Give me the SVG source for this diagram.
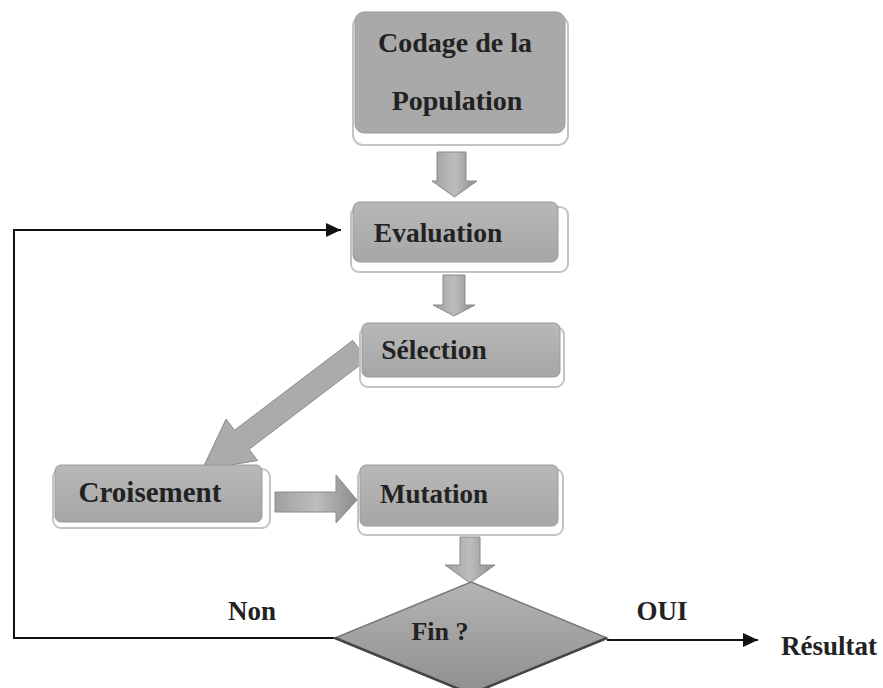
<svg xmlns="http://www.w3.org/2000/svg" width="883" height="688" viewBox="0 0 883 688">
<style>
.lbl{font-family:"Liberation Serif","Times New Roman",serif;font-weight:bold;fill:#222;text-anchor:middle}
.box{stroke:#9a9a9a;stroke-width:1}
.ledge{fill:#fff;stroke:#c4c4c4;stroke-width:2}
.blk{fill:url(#ga);stroke:#8a8a8a;stroke-width:1}
.line{fill:none;stroke:#111;stroke-width:2}
</style>
<defs>
<linearGradient id="gb" x1="0" y1="0" x2="0" y2="1">
<stop offset="0" stop-color="#b8b8b8"/><stop offset="1" stop-color="#a6a6a6"/>
</linearGradient>
<linearGradient id="ga" x1="0" y1="0" x2="1" y2="0">
<stop offset="0" stop-color="#a0a0a0"/><stop offset="0.5" stop-color="#bdbdbd"/><stop offset="1" stop-color="#8c8c8c"/>
</linearGradient>
<linearGradient id="gd" x1="0" y1="0" x2="0" y2="1">
<stop offset="0" stop-color="#b4b4b4"/><stop offset="1" stop-color="#8f8f8f"/>
</linearGradient>
<marker id="ah" markerWidth="8" markerHeight="8" refX="7.5" refY="4" orient="auto" markerUnits="strokeWidth">
<path d="M0,0.5 L7.5,4 L0,7.5 Z" fill="#111"/>
</marker>
</defs>
<rect width="883" height="688" fill="#fff"/>

<g id="connectors">
<path class="line" d="M335,638 L14,638 L14,230 L341,230" marker-end="url(#ah)"/>
<path class="line" d="M607,640 L758,640" marker-end="url(#ah)"/>
<path class="blk" d="M437,152 L466,152 L466,181 L477,181 L454.5,197 L432,181 L437,181 Z"/>
<path class="blk" d="M443,275 L465,275 L465,305 L475,305 L454,316 L433,305 L443,305 Z"/>
<path class="blk" d="M460,537 L480,537 L480,565 L495,565 L470,583 L445,565 L460,565 Z"/>
<path class="blk" d="M275,492 L336,492 L336,475 L357,500 L336,523 L336,512 L275,512 Z"/>
<path d="M202,470 L226.1,419.1 L234.5,430.2 L352.7,340.5 L367.3,359.5 L249.1,449.3 L257.5,460.4 Z" fill="#ababab" stroke="#8a8a8a" stroke-width="1"/>
</g>

<g id="codage">
<rect class="ledge" x="353" y="16" width="215" height="129" rx="10"/>
<rect class="box" x="355" y="12" width="210" height="121" rx="9" fill="#a9a9a9"/>
<text class="lbl" x="455" y="52" font-size="28">Codage de la</text>
<text class="lbl" x="457" y="110" font-size="28">Population</text>
</g>

<g id="evaluation">
<rect class="ledge" x="351" y="207" width="217" height="65" rx="8"/>
<rect class="box" x="353" y="202" width="205" height="60" rx="7" fill="url(#gb)"/>
<text class="lbl" x="438" y="242" font-size="27.5">Evaluation</text>
</g>

<g id="selection">
<rect class="ledge" x="360" y="327" width="204" height="60" rx="8"/>
<rect class="box" x="362" y="323" width="198" height="54" rx="6" fill="url(#gb)"/>
<text class="lbl" x="434" y="359" font-size="27.5">Sélection</text>
</g>

<g id="croisement">
<rect class="ledge" x="53" y="469" width="217" height="59" rx="8"/>
<rect class="box" x="55" y="465" width="207" height="57" rx="6" fill="url(#gb)"/>
<text class="lbl" x="150" y="502" font-size="29">Croisement</text>
</g>

<g id="mutation">
<rect class="ledge" x="358" y="469" width="205" height="66" rx="8"/>
<rect class="box" x="360" y="465" width="198" height="61" rx="6" fill="url(#gb)"/>
<text class="lbl" x="434" y="503" font-size="27">Mutation</text>
</g>

<g id="fin">
<path d="M471,582 L607,638 L471,694 L335,638 Z" fill="url(#gd)" stroke="#777" stroke-width="1.5"/>
<path d="M335,638 L471,694 L607,638" fill="none" stroke="#444" stroke-width="2.5"/>
<text class="lbl" x="440" y="640" font-size="26">Fin ?</text>
</g>

<g id="labels">
<text class="lbl" x="252" y="620" font-size="27">Non</text>
<text class="lbl" x="662" y="620" font-size="27">OUI</text>
<text class="lbl" x="829" y="655" font-size="27">Résultat</text>
</g>
</svg>
